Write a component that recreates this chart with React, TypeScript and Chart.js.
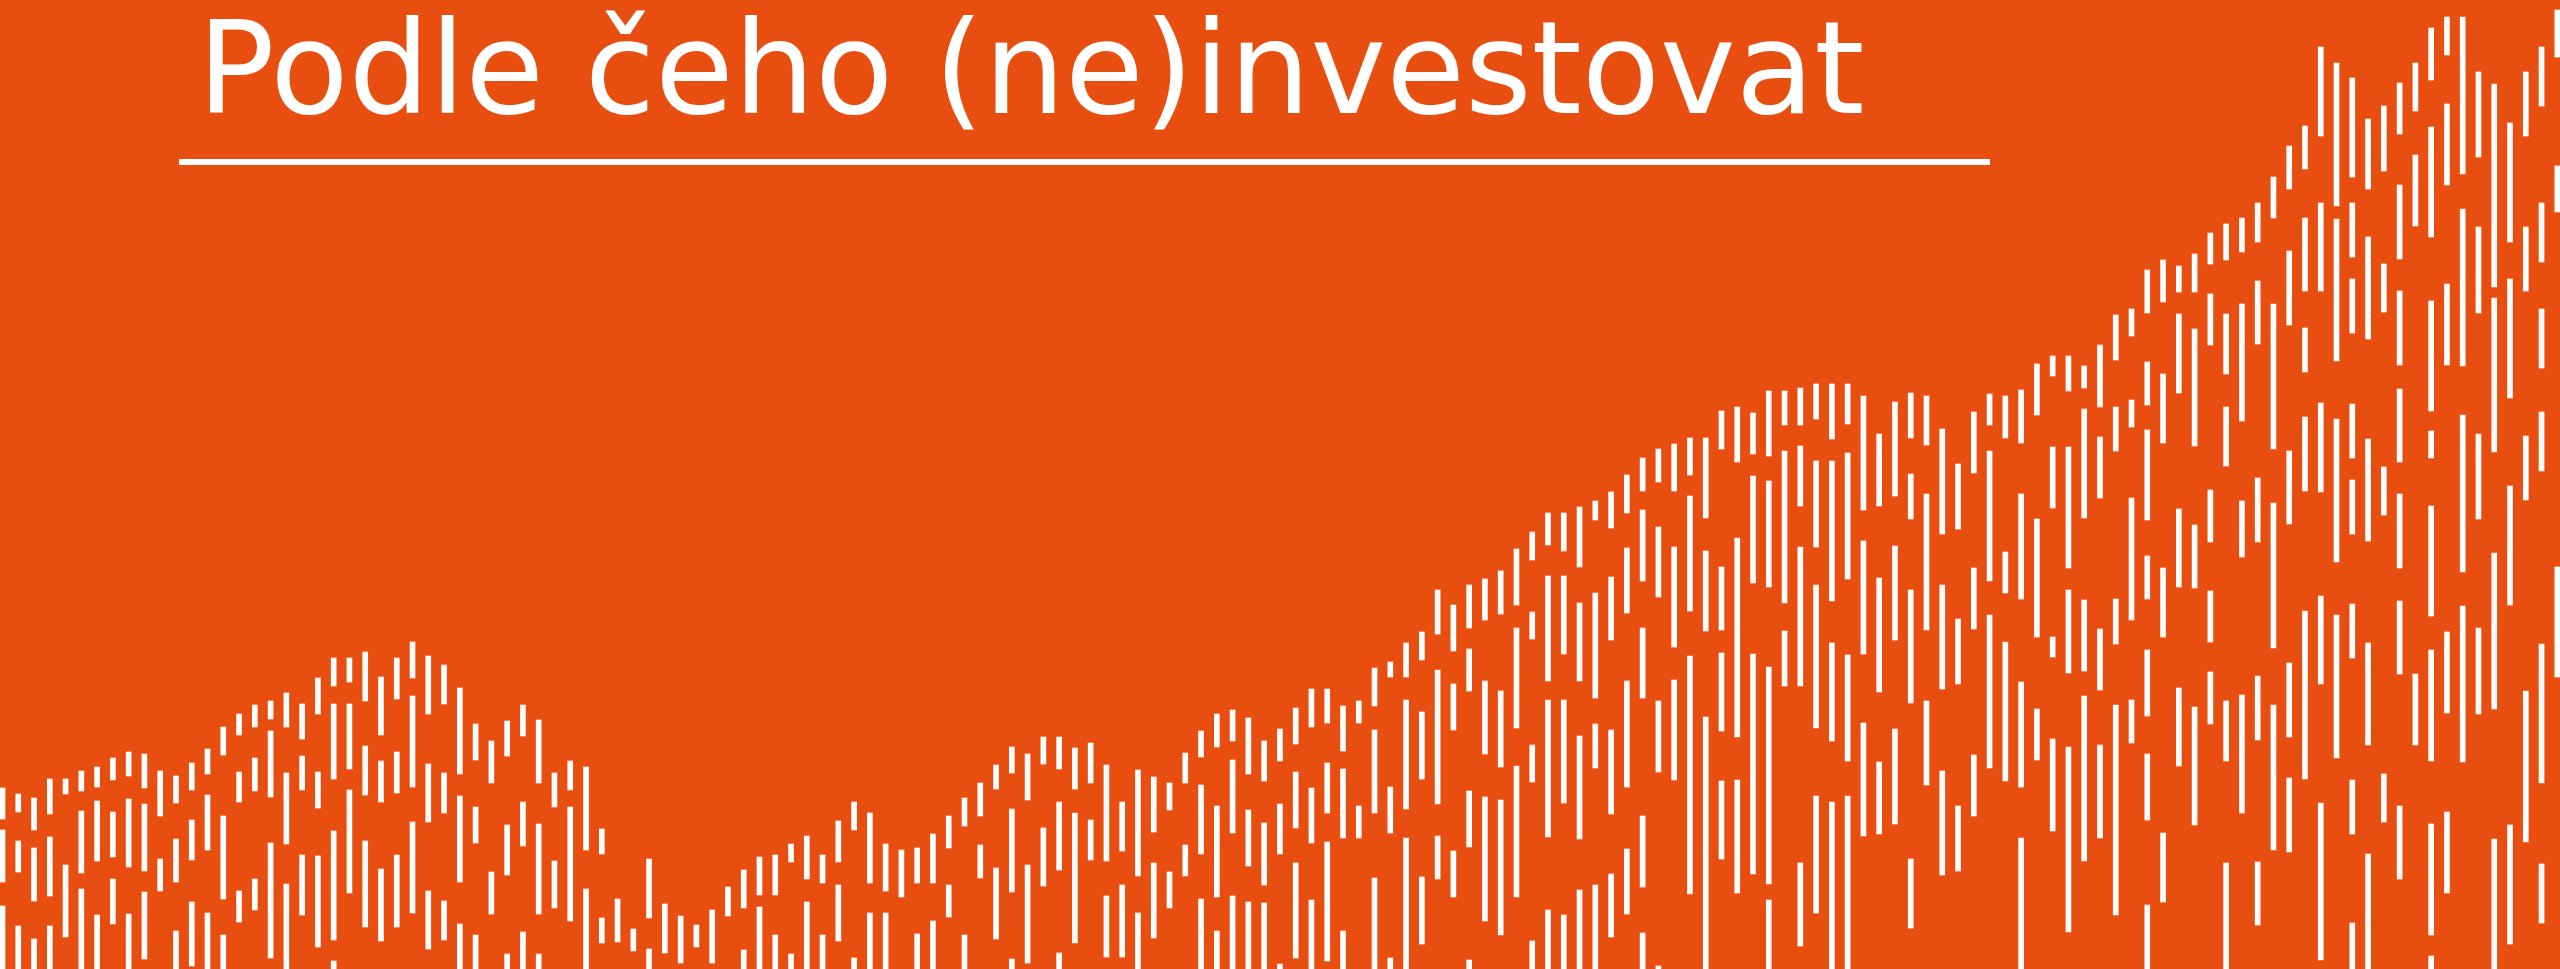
import { useEffect, useRef } from "react";
import { Chart, registerables } from "chart.js";

Chart.register(...registerables);

const TITLE = "Podle čeho (ne)investovat";

// Each column: white dashes listed top to bottom as [top, bottom, top, bottom, ...]
// (values = height above the bottom edge, scale 0..969)
const columnsA: number[][] = [
  [181, 150, 139, 87, 63, 0],
  [175, 157, 128, 97, 43, 0],
  [171, 139, 121, 68, 30, 0],
  [190, 155, 132, 73, 43, 0],
  [190, 175, 104, 32],
  [198, 178, 158, 96, 80, 0],
  [202, 182, 168, 108, 54, 0],
  [211, 189, 157, 112, 90, 45],
  [217, 193, 170, 102, 55, 0],
  [215, 181, 165, 98, 77, 10],
  [198, 153, 110, 78],
  [193, 166, 130, 87, 38, 0],
  [206, 179, 149, 109, 67, 3],
  [220, 195, 174, 119, 56, 0],
  [242, 214, 153, 70, 34, 0],
  [255, 234, 197, 167, 78, 47],
  [264, 242, 211, 178, 90, 59],
  [268, 250, 238, 172, 126, 11],
  [276, 242, 196, 125, 85, 0],
  [265, 230, 213, 179, 114, 54],
  [291, 255, 197, 161, 113, 22],
  [311, 283, 265, 190, 138, 29, 8, 0],
  [311, 287, 265, 200, 179, 76],
  [317, 268, 223, 174, 128, 42],
  [292, 234, 208, 167, 100, 28],
  [311, 270, 217, 176, 114, 42],
  [327, 291, 273, 182, 147, 56],
  [313, 255, 205, 147, 78, 20],
  [304, 265, 196, 156, 68, 29],
  [281, 195, 173, 87, 45, 0],
  [245, 209, 162, 126, 34, 0],
  [228, 186, 97, 55],
  [248, 213, 144, 94, 15, 0],
  [264, 233, 167, 123, 37, 0],
  [249, 186, 145, 55, 15, 0],
  [196, 162, 108, 61],
  [208, 179, 162, 48],
  [202, 119, 80, 0],
  [140, 115, 51, 26],
  [70, 27],
  [40, 18],
];

const columnsB: number[][] = [
  [110, 51, 20, 0],
  [65, 16],
  [53, 6],
  [44, 22],
  [59, 6],
  [82, 53],
  [99, 61, 19, 0],
  [112, 74, 62, 0],
  [114, 74, 34, 0],
  [125, 107, 15, 0],
  [133, 90, 67, 0],
  [114, 86, 34, 0],
  [148, 107, 84, 28],
  [167, 139, 11, 0],
  [156, 86, 56, 0],
  [125, 78, 56, 0],
  [119, 72],
  [121, 86, 35, 0],
  [135, 86, 48, 0],
  [153, 121, 84, 52],
  [171, 143, 34, 0],
  [186, 153, 124, 91],
  [204, 180, 101, 30],
  [222, 196, 160, 77, 10, 0],
  [215, 169, 104, 6],
  [232, 205, 141, 83],
  [232, 200, 167, 99, 16, 0],
  [221, 180, 156, 26],
  [226, 186, 149, 109],
  [204, 108, 73, 12],
  [167, 118, 84, 12],
  [199, 93, 56, 0],
  [192, 137, 106, 31],
  [186, 159, 97, 61],
  [216, 186, 124, 93],
  [238, 212, 184, 115, 70, 0],
  [255, 222, 163, 72, 38, 0],
  [259, 228, 209, 136, 73, 0],
  [251, 195, 159, 103, 67, 0],
  [228, 188, 146, 84, 66, 0],
];

const columnsC: number[][] = [
  [240, 208, 165, 115, 5, 0],
  [261, 225, 197, 141, 106, 11],
  [280, 242, 181, 126, 69, 0],
  [280, 246, 206, 156, 127, 8],
  [263, 218, 200, 131, 38, 0],
  [268, 246, 163, 131],
  [301, 263, 239, 156, 91, 0],
  [307, 292, 182, 136, 11, 0],
  [326, 292, 269, 160, 131, 0],
  [337, 309, 257, 190, 92, 25],
  [379, 335, 299, 165, 133, 90],
  [364, 318, 285, 239, 118, 72],
  [384, 341, 320, 278, 178, 122, 9, 0],
  [390, 349, 288, 215, 172, 48],
  [398, 355, 278, 202, 169, 34],
  [420, 364, 341, 241, 203, 72],
  [437, 409, 357, 330, 224, 187, 28, 0],
  [456, 424, 393, 288, 269, 132, 59, 0],
  [456, 418, 393, 315, 269, 166, 54, 0],
  [462, 402, 366, 288, 233, 130, 79, 0],
  [468, 449, 376, 271, 245, 201, 84, 0],
  [477, 441, 392, 329, 239, 155, 95, 32],
  [494, 456, 421, 356, 288, 182, 120, 55],
  [511, 478, 459, 388, 341, 271, 153, 82, 36, 0],
  [520, 487, 442, 372, 268, 197, 3, 0],
  [525, 478, 422, 322, 289, 189],
  [531, 494, 473, 358, 313, 75],
  [531, 451, 418, 338, 252, 0],
  [558, 520, 402, 339, 316, 238, 188, 110],
  [562, 507, 431, 232, 189, 76],
  [556, 515, 493, 386, 315, 95],
  [578, 513, 488, 382, 302, 85, 69, 0],
  [578, 544, 518, 366, 338, 283],
  [581, 544, 523, 463, 422, 283, 106, 23],
  [585, 550, 508, 422, 384, 241, 173, 56],
  [585, 530, 508, 368, 326, 228, 167, 0],
  [585, 545, 516, 390, 314, 208, 173, 0],
  [573, 459, 428, 315, 246, 133],
  [535, 463, 391, 277, 207, 135],
  [567, 473, 423, 329, 240, 145],
];

const columnsD: number[][] = [
  [576, 531, 495, 450, 379, 266, 110, 41],
  [573, 524, 475, 339, 268, 184],
  [540, 435, 384, 280, 198, 94],
  [505, 440, 350, 285, 163, 98],
  [557, 496, 401, 340, 214, 153],
  [575, 544, 518, 388, 354, 201],
  [573, 531, 417, 376, 327, 188],
  [579, 526, 475, 370, 287, 182, 131, 0],
  [605, 554, 450, 332, 260, 209],
  [613, 593, 522, 461, 332, 312, 230, 138],
  [613, 578, 522, 401, 379, 296, 222, 37],
  [603, 581, 560, 451, 369, 298, 273, 108],
  [624, 562, 532, 471, 340, 279, 224, 131],
  [654, 609, 562, 518, 370, 325, 264, 54],
  [660, 633, 569, 542, 471, 349, 269, 226],
  [699, 656, 607, 564, 539, 449, 413, 370, 319, 253, 215, 149, 64, 0],
  [709, 667, 595, 526, 401, 332, 136, 67],
  [703, 677, 655, 576, 460, 382, 281, 203],
  [715, 677, 640, 523, 444, 381, 262, 144],
  [736, 705, 675, 624, 479, 427, 378, 327, 297, 245],
  [745, 709, 655, 595, 562, 503, 268, 208, 106, 0],
  [751, 717, 665, 548, 468, 412, 274, 156],
  [766, 727, 688, 625, 491, 427, 293, 229, 107, 44],
  [792, 751, 665, 520, 466, 321, 264, 119],
  [823, 780, 718, 644, 518, 445, 306, 232, 191, 117],
  [843, 800, 751, 678, 641, 597, 552, 478, 358, 190],
  [922, 833, 766, 678, 566, 477, 373, 285, 166, 9],
  [906, 763, 750, 608, 550, 407, 354, 211],
  [891, 792, 766, 712, 690, 636, 565, 511, 489, 435, 365, 311, 189, 135, 46, 0],
  [850, 780, 732, 630, 530, 428, 326, 224, 115, 0],
  [863, 798, 705, 657, 502, 454, 195, 147],
  [886, 835, 784, 710, 678, 604, 580, 507, 475, 401, 368, 295, 163, 90],
  [906, 858, 814, 743, 295, 224],
  [941, 889, 842, 732, 668, 558, 538, 511, 463, 353, 319, 208, 145, 34, 13, 0],
  [952, 914, 865, 784, 685, 604, 337, 256, 157, 76],
  [952, 795, 760, 603, 554, 397, 363, 207],
  [897, 812, 742, 656, 535, 450, 341, 255],
  [885, 682, 671, 517, 416, 260, 130, 0],
  [846, 727, 690, 571, 483, 364, 144, 25],
  [897, 833, 742, 678, 533, 469, 278, 127],
  [922, 863, 766, 707, 660, 601, 557, 498, 325, 186, 105, 46],
  [959, 912, 803, 757, 402, 292],
];

const BG = "#E84E0F";
const FG = "#FFFFFF";

export default function App() {
  const canvasRef = useRef<HTMLCanvasElement | null>(null);

  useEffect(() => {
    const canvas = canvasRef.current;
    if (!canvas) return;
    const columns = [...columnsA, ...columnsB, ...columnsC, ...columnsD];
    const layers = Math.max(...columns.map((c) => c.length / 2));
    const datasets = Array.from({ length: layers }, (_, k) => ({
      data: columns.flatMap((c, i) =>
        c.length > 2 * k ? [{ x: i, y: [c[2 * k + 1], c[2 * k]] }] : []
      ),
      backgroundColor: FG,
      borderWidth: 0,
      barThickness: 5,
      grouped: false,
    }));
    const n = columns.length;
    const chart = new Chart(canvas, {
      type: "bar",
      data: { datasets: datasets as any },
      options: {
        animation: false,
        responsive: false,
        events: [],
        layout: { padding: 0 },
        plugins: {
          legend: { display: false },
          tooltip: { enabled: false },
          title: { display: false },
        },
        scales: {
          x: {
            type: "linear",
            min: -0.1585,
            max: n - 1 + 0.17,
            display: false,
            offset: false,
          },
          y: { min: 0, max: 969, display: false },
        },
      },
    });
    return () => chart.destroy();
  }, []);

  return (
    <div
      style={{
        position: "fixed",
        left: 0,
        top: 0,
        width: 2560,
        height: 969,
        background: BG,
        overflow: "hidden",
      }}
    >
      <canvas
        ref={canvasRef}
        width={2560}
        height={969}
        style={{ position: "absolute", left: 0, top: 0, width: 2560, height: 969 }}
      />
      <div
        style={{
          position: "absolute",
          left: 197.5,
          top: 5,
          fontFamily: "'DejaVu Sans', sans-serif",
          fontSize: 128,
          lineHeight: "128px",
          color: FG,
          whiteSpace: "nowrap",
        }}
      >
        {TITLE}
      </div>
      <div
        style={{
          position: "absolute",
          left: 179,
          top: 159,
          width: 1811,
          height: 6,
          background: FG,
        }}
      />
    </div>
  );
}
